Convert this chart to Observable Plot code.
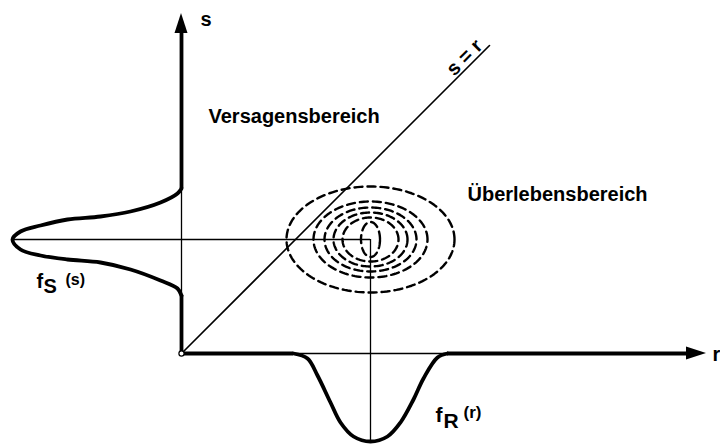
<!DOCTYPE html>
<html>
<head>
<meta charset="utf-8">
<script src="https://cdn.jsdelivr.net/npm/d3@7"></script>
<script src="https://cdn.jsdelivr.net/npm/@observablehq/plot@0.6"></script>
<style>
  html, body { margin: 0; padding: 0; background: #fff; }
  #chart svg { display: block; }
</style>
</head>
<body>
<div id="chart"></div>
<script>
// Resistance density f_R(r), drawn hanging below the r axis
const rValues  = [1.12, 1.26, 1.36, 1.49, 1.59, 1.72, 1.89, 2.06, 2.19, 2.32, 2.42, 2.56, 2.66];
const fRValues = [0.00, 0.05, 0.22, 0.49, 0.69, 0.83, 0.88, 0.83, 0.69, 0.46, 0.25, 0.04, 0.00];

// Load density f_S(s), drawn to the left of the s axis
const sValues  = [1.65, 1.60, 1.51, 1.42, 1.37, 1.34, 1.28, 1.22, 1.14, 1.04, 0.98, 0.94, 0.91, 0.84, 0.73, 0.65, 0.58];
const fSValues = [0.00, 0.04, 0.21, 0.51, 0.81, 1.14, 1.41, 1.61, 1.69, 1.61, 1.41, 1.14, 0.81, 0.51, 0.21, 0.04, 0.00];

// Contours of the joint density around the mean point (muR, muS)
const muR = 1.89;
const muS = 1.14;
const contourRx = [0.84, 0.57, 0.46, 0.37, 0.28, 0.095];
const contourRy = [0.53, 0.38, 0.32, 0.27, 0.22, 0.175];

// Extent of the axes and of the limit state line s = r
const rAxisEnd = 5.25;
const sAxisEnd = 3.40;
const diagonalEnd = 3.08;

// Texts
const regionLabels = ["Versagensbereich", "Überlebensbereich"];
const axisLabels = ["r", "s"];
const diagonalLabel = "s = r";

const width = 720, height = 445;
const xDomain = [-1.81, 5.39];
const yDomain = [-0.92, 3.53];
const pxX = (xDomain[1] - xDomain[0]) / width;   // data units per pixel
const pxY = (yDomain[1] - yDomain[0]) / height;

const fR = rValues.map((r, i) => ({r, f: fRValues[i]}));
const fS = sValues.map((s, i) => ({s, f: fSValues[i]}));

// Points along each contour ellipse
const contours = [];
contourRx.forEach((rx, k) => {
  const ry = contourRy[k];
  for (let i = 0; i <= 160; i++) {
    const t = (i / 160) * 2 * Math.PI;
    contours.push({k, r: muR + rx * Math.cos(t), s: muS + ry * Math.sin(t)});
  }
});

// Filled arrow heads at the ends of both axes
const headLen = 20, headHalf = 6.5;
const rHead = [
  {r: rAxisEnd - headLen * pxX, lo: -headHalf * pxY, hi: headHalf * pxY},
  {r: rAxisEnd, lo: 0, hi: 0}
];
const sHead = [
  {s: sAxisEnd - headLen * pxY, lo: -headHalf * pxX, hi: headHalf * pxX},
  {s: sAxisEnd, lo: 0, hi: 0}
];
const rBase = rAxisEnd - headLen * pxX;
const sBase = sAxisEnd - headLen * pxY;

const thick = 3.8, thin = 1.3;
const font = "'Liberation Sans', Arial, Helvetica, sans-serif";
const textOpts = {fontFamily: font, fontWeight: "bold", fill: "black", lineAnchor: "bottom", textAnchor: "start"};

const chart = Plot.plot({
  width, height,
  marginTop: 0, marginRight: 0, marginBottom: 0, marginLeft: 0,
  x: {domain: xDomain, range: [0, width], axis: null},
  y: {domain: yDomain, range: [height, 0], axis: null},
  style: {background: "white", fontFamily: font},
  marks: [
    // thin axis segments under the densities
    Plot.ruleY([0], {x1: 0, x2: rBase, stroke: "black", strokeWidth: thin}),
    Plot.ruleX([0], {y1: 0, y2: sBase, stroke: "black", strokeWidth: thin}),
    // thick baselines of the densities along the axes
    Plot.ruleY([0, 0], {x1: [0, rValues[rValues.length - 1]], x2: [rValues[0], rBase], stroke: "black", strokeWidth: thick}),
    Plot.ruleX([0, 0], {y1: [0, sValues[0]], y2: [sValues[sValues.length - 1], sBase], stroke: "black", strokeWidth: thick}),
    Plot.areaY(rHead, {x: "r", y1: "lo", y2: "hi", fill: "black"}),
    Plot.areaX(sHead, {y: "s", x1: "lo", x2: "hi", fill: "black"}),
    // limit state line s = r
    Plot.line([[0, 0], [diagonalEnd, diagonalEnd]], {stroke: "black", strokeWidth: 1.6}),
    // guide lines from the density peaks to the mean point
    Plot.ruleY([muS], {x1: -d3.max(fSValues), x2: muR, stroke: "black", strokeWidth: thin}),
    Plot.ruleX([muR], {y1: -d3.max(fRValues), y2: muS, stroke: "black", strokeWidth: thin}),
    // contour ellipses
    Plot.line(contours, {x: "r", y: "s", z: "k", stroke: "black", strokeWidth: 2.4, strokeDasharray: "8,5"}),
    // densities
    Plot.line(fR, {x: "r", y: d => -d.f, curve: "catmull-rom", stroke: "black", strokeWidth: thick}),
    Plot.line(fS, {x: d => -d.f, y: "s", curve: "catmull-rom", stroke: "black", strokeWidth: thick}),
    // origin
    Plot.dot([[0, 0]], {r: 2.6, fill: "white", stroke: "black", strokeWidth: 1.2}),
    // region labels
    Plot.text([regionLabels[0]], {x: 0.27, y: 2.31, text: d => d, fontSize: 20, ...textOpts}),
    Plot.text([regionLabels[1]], {x: 2.86, y: 1.53, text: d => d, fontSize: 20, ...textOpts}),
    // axis labels
    Plot.text([axisLabels[0]], {x: rAxisEnd + 0.06, y: -0.07, text: d => d, fontSize: 20, ...textOpts}),
    Plot.text([axisLabels[1]], {x: 0.19, y: 3.28, text: d => d, fontSize: 20, ...textOpts}),
    // s = r along the diagonal
    Plot.text([diagonalLabel], {x: 2.83, y: 2.96, text: d => d, fontSize: 20, fontFamily: font, fontWeight: "bold", rotate: -45, textAnchor: "middle", lineAnchor: "middle"}),
    // f_S (s)
    Plot.text(["f"], {x: -1.45, y: 0.66, text: d => d, fontSize: 20, ...textOpts}),
    Plot.text(["S"], {x: -1.38, y: 0.61, text: d => d, fontSize: 20, ...textOpts}),
    Plot.text(["(s)"], {x: -1.16, y: 0.69, text: d => d, fontSize: 16, ...textOpts}),
    // f_R (r)
    Plot.text(["f"], {x: 2.54, y: -0.68, text: d => d, fontSize: 21, ...textOpts}),
    Plot.text(["R"], {x: 2.62, y: -0.74, text: d => d, fontSize: 21, ...textOpts}),
    Plot.text(["(r)"], {x: 2.82, y: -0.64, text: d => d, fontSize: 17, ...textOpts})
  ]
});
document.getElementById("chart").appendChild(chart);
</script>
</body>
</html>
